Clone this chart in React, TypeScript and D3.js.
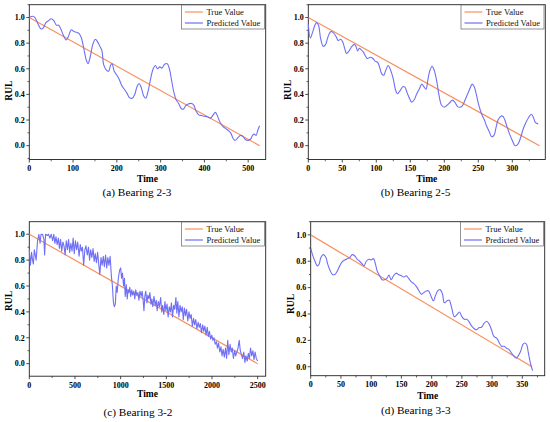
import React from 'react';
import * as d3 from 'd3';

type Pt = [number, number];

const legendLabels = ['True Value', 'Predicted Value'];
const captions = ['(a) Bearing 2-3', '(b) Bearing 2-5', '(c) Bearing 3-2', '(d) Bearing 3-3'];
const yTicks = [0, 0.2, 0.4, 0.6, 0.8, 1.0];
const xTicksA = [0, 100, 200, 300, 400, 500];
const xTicksB = [0, 50, 100, 150, 200, 250, 300];
const xTicksC = [0, 500, 1000, 1500, 2000, 2500];
const xTicksD = [0, 50, 100, 150, 200, 250, 300, 350];

const trueA: Pt[] = [[0, 1], [526, 0]];
const trueB: Pt[] = [[0, 1], [340, 0]];
const trueC: Pt[] = [[0, 1], [2500, 0]];
const trueD: Pt[] = [[0, 1], [366, 0]];

const predA: Pt[] = [
  [0, 1.0], [8, 1.01], [13, 1.0], [20, 0.95], [27, 0.91], [32, 0.92], [38, 0.96], [44, 0.975], [50, 0.99],
  [56, 0.975], [62, 0.94], [67, 0.94], [72, 0.91], [78, 0.86], [84, 0.825], [89, 0.85], [96, 0.905],
  [102, 0.89], [108, 0.885], [114, 0.875], [119, 0.84], [125, 0.75], [130, 0.67], [134, 0.64], [139, 0.69],
  [145, 0.79], [151, 0.83], [156, 0.81], [162, 0.77], [166, 0.74], [170, 0.63], [176, 0.59], [181, 0.58],
  [186, 0.63], [189, 0.64], [194, 0.58], [199, 0.555], [205, 0.52], [211, 0.47], [217, 0.44], [223, 0.41],
  [229, 0.375], [235, 0.37], [241, 0.4], [246, 0.46], [251, 0.485], [256, 0.45], [261, 0.39], [266, 0.37],
  [271, 0.42], [277, 0.52], [283, 0.6], [288, 0.625], [293, 0.6], [298, 0.615], [303, 0.605], [309, 0.635],
  [315, 0.64], [320, 0.6], [325, 0.51], [330, 0.42], [335, 0.36], [341, 0.33], [347, 0.29], [352, 0.285],
  [357, 0.31], [363, 0.325], [369, 0.33], [375, 0.32], [381, 0.27], [387, 0.24], [393, 0.235], [400, 0.23],
  [407, 0.225], [414, 0.215], [420, 0.24], [425, 0.26], [430, 0.23], [436, 0.18], [442, 0.15], [448, 0.135],
  [454, 0.12], [460, 0.1], [465, 0.06], [470, 0.04], [476, 0.06], [482, 0.08], [487, 0.075], [493, 0.05],
  [499, 0.04], [505, 0.05], [510, 0.08], [514, 0.09], [518, 0.08], [522, 0.12], [526, 0.155],
];

const predB: Pt[] = [
  [0, 0.95], [3, 0.84], [6, 0.88], [9, 0.93], [12, 0.96], [15, 0.94], [18, 0.84], [22, 0.775], [25.5, 0.79],
  [29, 0.85], [33, 0.89], [37, 0.88], [41, 0.85], [44, 0.82], [47.5, 0.83], [50.5, 0.81], [54, 0.75],
  [56, 0.72], [60, 0.74], [64, 0.775], [68, 0.79], [70, 0.775], [72.5, 0.74], [75, 0.76], [77.5, 0.75],
  [81, 0.73], [84, 0.7], [87, 0.68], [91, 0.69], [95, 0.68], [98, 0.66], [102, 0.65], [105, 0.61],
  [108, 0.56], [111, 0.55], [114, 0.59], [117.5, 0.625], [121, 0.59], [125, 0.52], [128, 0.44],
  [131, 0.405], [135, 0.43], [139, 0.46], [142, 0.457], [145.5, 0.41], [149.5, 0.36], [152, 0.34],
  [156, 0.36], [159, 0.4], [163, 0.44], [167, 0.48], [170, 0.46], [173, 0.44], [176, 0.52], [179, 0.59],
  [182, 0.62], [185, 0.59], [189, 0.5], [192, 0.4], [196, 0.315], [200, 0.3], [204, 0.315], [208, 0.335],
  [212, 0.355], [216, 0.335], [219.5, 0.305], [223, 0.3], [227, 0.315], [230, 0.35], [234, 0.4],
  [238, 0.45], [241, 0.48], [244, 0.46], [247.5, 0.39], [251, 0.31], [255, 0.245], [259, 0.2],
  [262, 0.155], [266, 0.11], [269.5, 0.07], [273, 0.08], [276, 0.14], [279, 0.2], [283, 0.23], [286, 0.23],
  [289, 0.2], [292, 0.15], [296, 0.09], [300, 0.04], [304, 0.0], [308, 0.01], [312, 0.06], [316, 0.13],
  [320, 0.18], [324, 0.22], [328, 0.245], [331, 0.22], [334, 0.18], [338, 0.17],
];

const predC: Pt[] = [
  [0, 0.88], [12, 0.76], [25, 0.86], [35, 0.8], [45, 0.77], [55, 0.88], [65, 0.84], [75, 0.8], [90, 0.95],
  [105, 1.0], [118, 0.93], [128, 1.0], [145, 1.0], [160, 0.96], [168, 0.84], [178, 1.0], [195, 0.99],
  [210, 1.0], [225, 0.97], [240, 1.0], [255, 0.95], [268, 1.0], [280, 0.93], [292, 0.98], [305, 0.92],
  [318, 0.97], [330, 0.89], [342, 0.96], [355, 0.87], [368, 0.94], [380, 0.91], [392, 0.84], [405, 0.95],
  [418, 0.88], [430, 0.96], [442, 0.86], [455, 0.93], [468, 0.87], [480, 0.97], [492, 0.85], [505, 0.95],
  [518, 0.88], [530, 0.94], [545, 0.83], [558, 0.92], [570, 0.87], [582, 0.9], [595, 0.76], [608, 0.88],
  [620, 0.91], [635, 0.84], [648, 0.9], [660, 0.8], [672, 0.88], [685, 0.82], [698, 0.89], [710, 0.79],
  [722, 0.85], [735, 0.78], [748, 0.86], [760, 0.77], [772, 0.69], [785, 0.82], [798, 0.76], [810, 0.83],
  [822, 0.75], [835, 0.84], [848, 0.74], [860, 0.82], [872, 0.76], [885, 0.83], [898, 0.68], [910, 0.6],
  [920, 0.48], [930, 0.44], [942, 0.46], [952, 0.6], [962, 0.55], [975, 0.66], [988, 0.72], [1000, 0.74],
  [1010, 0.66], [1020, 0.7], [1032, 0.6], [1042, 0.66], [1050, 0.52], [1062, 0.61], [1072, 0.5],
  [1082, 0.57], [1090, 0.55], [1100, 0.59], [1110, 0.52], [1122, 0.57], [1132, 0.53], [1145, 0.56],
  [1155, 0.5], [1165, 0.57], [1178, 0.53], [1190, 0.55], [1200, 0.49], [1212, 0.56], [1225, 0.52],
  [1235, 0.56], [1245, 0.5], [1255, 0.41], [1265, 0.52], [1275, 0.56], [1288, 0.47], [1298, 0.53],
  [1310, 0.5], [1320, 0.55], [1332, 0.46], [1342, 0.5], [1352, 0.44], [1365, 0.52], [1378, 0.45],
  [1390, 0.49], [1400, 0.41], [1412, 0.48], [1425, 0.44], [1438, 0.51], [1450, 0.4], [1460, 0.45],
  [1472, 0.38], [1485, 0.48], [1495, 0.41], [1508, 0.46], [1520, 0.36], [1532, 0.44], [1545, 0.4],
  [1556, 0.47], [1568, 0.36], [1580, 0.45], [1592, 0.42], [1605, 0.51], [1615, 0.39], [1626, 0.48],
  [1638, 0.36], [1650, 0.45], [1662, 0.4], [1675, 0.44], [1686, 0.34], [1698, 0.43], [1710, 0.37],
  [1722, 0.42], [1735, 0.33], [1748, 0.4], [1760, 0.35], [1772, 0.38], [1785, 0.29], [1798, 0.35],
  [1810, 0.3], [1822, 0.34], [1835, 0.27], [1848, 0.32], [1860, 0.28], [1872, 0.31], [1885, 0.24],
  [1898, 0.3], [1910, 0.25], [1922, 0.29], [1935, 0.22], [1948, 0.28], [1960, 0.21], [1972, 0.25],
  [1985, 0.19], [1998, 0.22], [2010, 0.18], [2022, 0.2], [2035, 0.15], [2048, 0.17], [2060, 0.12],
  [2072, 0.16], [2085, 0.09], [2098, 0.13], [2110, 0.06], [2122, 0.11], [2135, 0.05], [2148, 0.12],
  [2160, 0.04], [2172, 0.18], [2185, 0.07], [2198, 0.15], [2210, 0.09], [2222, 0.12], [2235, 0.04],
  [2248, 0.1], [2260, 0.06], [2272, 0.09], [2285, 0.12], [2298, 0.18], [2310, 0.1], [2322, 0.07],
  [2335, 0.04], [2348, 0.09], [2360, 0.01], [2372, 0.06], [2385, 0.02], [2398, 0.08], [2410, 0.04],
  [2422, 0.12], [2435, 0.06], [2448, 0.1], [2460, 0.03], [2472, 0.09], [2485, 0.04], [2500, 0.02],
];

const predD: Pt[] = [
  [0, 0.9], [3, 0.85], [7, 0.8], [11, 0.765], [14, 0.78], [17, 0.83], [21, 0.85], [25, 0.83], [28, 0.78],
  [32, 0.73], [36, 0.7], [40, 0.7], [44, 0.725], [48, 0.765], [52, 0.795], [56.5, 0.81], [61, 0.82],
  [65, 0.83], [68.6, 0.85], [73, 0.84], [77, 0.815], [81, 0.8], [85, 0.78], [88, 0.765], [92, 0.8],
  [96, 0.815], [100, 0.81], [104, 0.82], [107, 0.78], [110, 0.725], [114, 0.69], [118, 0.66], [122, 0.66],
  [126, 0.67], [129.5, 0.695], [133, 0.66], [137, 0.69], [141.5, 0.71], [145, 0.7], [150, 0.69],
  [154, 0.68], [158, 0.69], [162, 0.67], [166, 0.645], [170.6, 0.63], [174.5, 0.61], [178, 0.585],
  [183, 0.55], [186.5, 0.56], [191, 0.575], [195, 0.575], [199, 0.535], [203, 0.5], [206, 0.535],
  [210, 0.575], [214, 0.585], [218, 0.55], [221, 0.485], [225.5, 0.5], [229, 0.505], [233, 0.45],
  [237.5, 0.38], [242, 0.395], [246, 0.415], [250, 0.38], [254, 0.36], [258, 0.36], [262, 0.34],
  [266, 0.31], [270, 0.29], [274, 0.28], [278, 0.295], [282.5, 0.3], [287, 0.33], [291, 0.345],
  [295, 0.325], [299, 0.28], [303, 0.23], [308, 0.215], [312, 0.18], [315.5, 0.155], [320, 0.155],
  [324, 0.14], [328, 0.13], [332, 0.105], [336, 0.08], [340, 0.065], [343, 0.08], [347, 0.115],
  [351, 0.17], [354, 0.18], [357, 0.17], [360, 0.105], [364, 0.015], [367, -0.03],
];

const TRUE_COLOR = '#F8905F';
const PRED_COLOR = '#6F6FF6';
const FONT = 'Liberation Serif, Times New Roman, serif';

interface Spec {
  l: number; t: number; r: number; b: number;
  xMax: number; yMin: number; yMax: number;
  xTicks: number[]; xMinor: number;
  pred: Pt[]; truth: Pt[];
  caption: string; capX: number; capY: number;
  timeY: number; rulY: number;
  smooth: boolean;
}

const specs: Spec[] = [
  { l: 29.3, t: 4.7, r: 265.7, b: 159.5, xMax: 540, yMin: -0.108, yMax: 1.1, xTicks: xTicksA, xMinor: 50,
    pred: predA, truth: trueA, caption: captions[0], capX: 137, capY: 196, timeY: 182, rulY: 90.7, smooth: true },
  { l: 308.3, t: 4.7, r: 545.3, b: 159.5, xMax: 348.5, yMin: -0.108, yMax: 1.1, xTicks: xTicksB, xMinor: 25,
    pred: predB, truth: trueB, caption: captions[1], capX: 415.5, capY: 196, timeY: 182, rulY: 90, smooth: true },
  { l: 29.3, t: 221.7, r: 265.7, b: 376.2, xMax: 2588, yMin: -0.097, yMax: 1.097, xTicks: xTicksC, xMinor: 250,
    pred: predC, truth: trueC, caption: captions[2], capX: 138, capY: 416, timeY: 397, rulY: 301, smooth: false },
  { l: 310.7, t: 221.7, r: 544.7, b: 375.7, xMax: 387, yMin: -0.068, yMax: 1.1, xTicks: xTicksD, xMinor: 25,
    pred: predD, truth: trueD, caption: captions[3], capX: 415.8, capY: 414, timeY: 398.5, rulY: 304, smooth: true },
];

function Panel({ s }: { s: Spec }) {
  const x = d3.scaleLinear().domain([0, s.xMax]).range([s.l, s.r]);
  const y = d3.scaleLinear().domain([s.yMin, s.yMax]).range([s.b, s.t]);
  const line = d3.line<Pt>().x(d => x(d[0])).y(d => y(d[1]))
    .curve(s.smooth ? d3.curveCatmullRom.alpha(0.5) : d3.curveLinear);
  const straight = d3.line<Pt>().x(d => x(d[0])).y(d => y(d[1]));
  const xMinorTicks = d3.range(0, s.xMax + 0.001, s.xMinor).filter(v => !s.xTicks.includes(v));
  const yMinorTicks = d3.range(-0.1, 1.1001, 0.1).map(v => Math.round(v * 10) / 10)
    .filter(v => !yTicks.some(t => Math.abs(t - v) < 1e-6) && v >= s.yMin && v <= s.yMax);
  const lgW = 83, lgH = 24;
  const lgX = s.r - lgW - 1.3, lgY = s.t + 0.3;
  return (
    <g>
      <rect x={s.l} y={s.t} width={s.r - s.l} height={s.b - s.t} fill="white" stroke="#222" strokeWidth={0.9} />
      <path d={straight(s.truth) || ''} fill="none" stroke={TRUE_COLOR} strokeWidth={1.2} />
      <path d={line(s.pred) || ''} fill="none" stroke={PRED_COLOR} strokeWidth={1.1} strokeLinejoin="round" />
      {yTicks.map(v => (
        <g key={'y' + v}>
          <line x1={s.l - 3} x2={s.l} y1={y(v)} y2={y(v)} stroke="#222" strokeWidth={0.8} />
          <text x={s.l - 4.5} y={y(v)} dy="0.35em" textAnchor="end" fontFamily={FONT} fontWeight="bold" fontSize={8}>
            {d3.format('.1f')(v)}
          </text>
        </g>
      ))}
      {yMinorTicks.map(v => (
        <line key={'ym' + v} x1={s.l - 1.8} x2={s.l} y1={y(v)} y2={y(v)} stroke="#222" strokeWidth={0.7} />
      ))}
      {s.xTicks.map(v => (
        <g key={'x' + v}>
          <line x1={x(v)} x2={x(v)} y1={s.b} y2={s.b + 3} stroke="#222" strokeWidth={0.8} />
          <text x={x(v)} y={s.b + 11.5} textAnchor="middle" fontFamily={FONT} fontWeight="bold" fontSize={8}>
            {v}
          </text>
        </g>
      ))}
      {xMinorTicks.map(v => (
        <line key={'xm' + v} x1={x(v)} x2={x(v)} y1={s.b} y2={s.b + 1.8} stroke="#222" strokeWidth={0.7} />
      ))}
      <text x={(s.l + s.r) / 2} y={s.timeY} textAnchor="middle" fontFamily={FONT} fontWeight="bold" fontSize={9.5}>Time</text>
      <text transform={`translate(${s.l - 20.5},${s.rulY}) rotate(-90)`} textAnchor="middle" dy="0.35em"
        fontFamily={FONT} fontWeight="bold" fontSize={9.5}>RUL</text>
      <text x={s.capX} y={s.capY} textAnchor="middle" fontFamily={FONT} fontSize={11.3}>{s.caption}</text>
      <rect x={lgX} y={lgY} width={lgW} height={lgH} fill="white" stroke="#666" strokeWidth={0.7} />
      {legendLabels.map((lab, i) => {
        const ry = lgY + 7 + i * 11;
        return (
          <g key={lab}>
            <line x1={lgX + 3.5} x2={lgX + 21.5} y1={ry} y2={ry} stroke={i === 0 ? TRUE_COLOR : PRED_COLOR} strokeWidth={1.2} />
            <text x={lgX + 25} y={ry} dy="0.35em" fontFamily={FONT} fontSize={8.6} fill="#111">{lab}</text>
          </g>
        );
      })}
    </g>
  );
}

export default function App() {
  return (
    <svg width={550} height={422} viewBox="0 0 550 422"
      style={{ position: 'absolute', left: 0, top: 0, background: 'white' }}>
      <rect x={0} y={0} width={550} height={422} fill="white" />
      {specs.map((s, i) => <Panel key={i} s={s} />)}
    </svg>
  );
}
